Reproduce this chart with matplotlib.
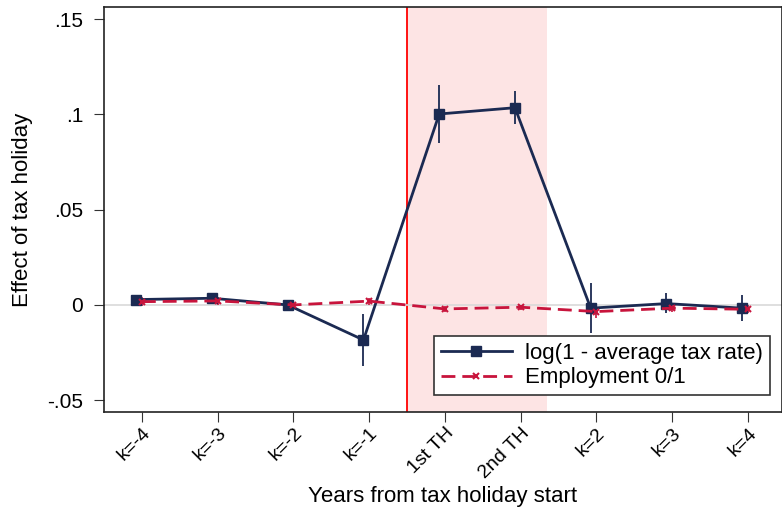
import matplotlib
matplotlib.use("Agg")
import matplotlib.pyplot as plt

plt.rcParams['font.family'] = ['Liberation Sans', 'DejaVu Sans']

# categorias e valores
labels = ["k=-4", "k=-3", "k=-2", "k=-1", "1st TH", "2nd TH", "k=2", "k=3", "k=4"]
tax = [0.0028, 0.0035, 0.0, -0.0184, 0.1002, 0.1035, -0.0017, 0.0007, -0.0017]
tax_lo = [0.0010, 0.0018, 0.0, -0.0318, 0.0851, 0.0949, -0.0149, -0.0044, -0.0084]
tax_hi = [0.0046, 0.0052, 0.0, -0.0049, 0.1152, 0.1122, 0.0115, 0.0061, 0.0052]
emp = [0.0017, 0.0021, 0.0, 0.0020, -0.0021, -0.0012, -0.0035, -0.0017, -0.0023]
emp_lo = [-0.0005, -0.0001, 0.0, 0.0002, -0.0036, -0.0025, -0.0068, -0.0037, -0.0043]
emp_hi = [0.0039, 0.0043, 0.0, 0.0038, -0.0006, 0.0001, -0.0002, 0.0003, -0.0003]

navy = "#1b2a52"
red = "#c8143c"

fig = plt.figure(figsize=(7.82, 5.07), dpi=100)
ax = fig.add_axes([0.133, 0.187, 0.867, 0.799])

x = list(range(len(labels)))
xt = [i - 0.075 for i in x]

ax.axvspan(3.5, 5.35, color="#fde4e4", lw=0, zorder=0)
ax.axvline(3.5, color="red", lw=1.3, zorder=1)
ax.axhline(0, color="#d9d9d9", lw=1.2, zorder=1)

ax.vlines(xt, tax_lo, tax_hi, color=navy, lw=1.3, zorder=3)
ax.plot(xt, tax, color=navy, lw=2, marker="s", ms=7, zorder=4,
        label="log(1 - average tax rate)")
ax.vlines(x, emp_lo, emp_hi, color=red, lw=1.2, zorder=3)
ax.plot(x, emp, color=red, lw=2, ls=(0, (5, 2.5)), marker="x", ms=5, mew=1.5,
        zorder=4, label="Employment 0/1")

ax.set_xlim(-0.5, 8.45)
ax.set_ylim(-0.0563, 0.1563)
ax.set_yticks([-0.05, 0, 0.05, 0.1, 0.15])
ax.set_yticklabels(["-.05", "0", ".05", ".1", ".15"])
ax.set_xticks(x)
ax.set_xticklabels(labels, rotation=45, ha="right", rotation_mode="anchor")
ax.tick_params(axis="both", length=7, color="#333333")
ax.tick_params(axis="x", labelsize=14, pad=2)
ax.tick_params(axis="y", labelsize=15, pad=8)
for s in ax.spines.values():
    s.set_color("#222222")
    s.set_linewidth(1.2)

ax.set_ylabel("Effect of tax holiday", fontsize=16, labelpad=10)
ax.set_xlabel("Years from tax holiday start", fontsize=16)
ax.xaxis.set_label_coords(0.5, -0.183)

leg = ax.legend(loc="lower right", fontsize=16, fancybox=False, framealpha=1,
                edgecolor="#333333", handlelength=3.2, borderpad=0.3,
                labelspacing=0.15, handletextpad=0.6,
                bbox_to_anchor=(0.9985, 0.015))
leg.get_frame().set_linewidth(1.2)

fig.savefig("out.png", dpi=100)
